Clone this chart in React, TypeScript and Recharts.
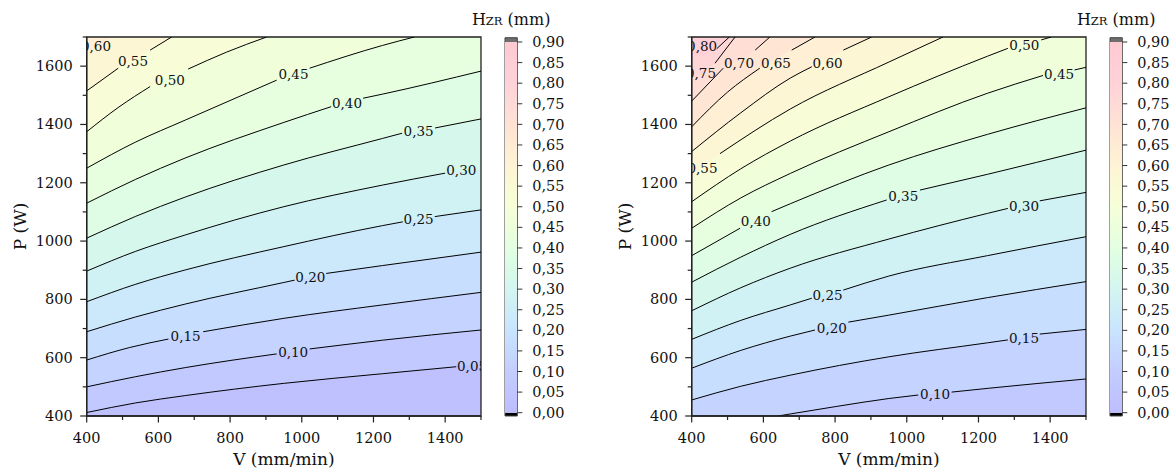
import React from 'react';
import {
  ComposedChart,
  Area,
  Line,
  Scatter,
  XAxis,
  YAxis,
  CartesianGrid,
  ReferenceArea,
  BarChart,
  Bar,
  Label,
} from 'recharts';

const FONT = '"DejaVu Serif", serif';

// axis ranges and ticks
const V_MIN = 400;
const V_MAX = 1500;
const P_MIN = 400;
const P_MAX = 1700;
const V_TICKS = [400, 500, 600, 700, 800, 900, 1000, 1100, 1200, 1300, 1400, 1500];
const P_TICKS = [400, 500, 600, 700, 800, 900, 1000, 1100, 1200, 1300, 1400, 1500, 1600, 1700];
const CB_TICKS = [0, 0.05, 0.1, 0.15, 0.2, 0.25, 0.3, 0.35, 0.4, 0.45, 0.5, 0.55, 0.6, 0.65, 0.7, 0.75, 0.8, 0.85, 0.9];

type Pt = [number, number | null];

// left panel: contour lines [V, P] (null = gap where the label sits)
const left005: Pt[] = [[400, 412], [537, 445], [675, 470], [950, 512], [1225, 545], [1431, 569], [1453, null], [1500, 577]];
const left010: Pt[] = [[400, 500], [537, 535], [675, 566], [930, 613], [976, null], [1022, 630], [1225, 660], [1500, 695]];
const left015: Pt[] = [[400, 592], [520, 635], [628, 664], [676, null], [725, 689], [950, 735], [1225, 781], [1500, 824]];
const left020: Pt[] = [[400, 689], [537, 740], [675, 784], [950, 858], [980, 866], [1024, null], [1068, 889], [1225, 916], [1500, 962]];
const left025: Pt[] = [[400, 792], [537, 852], [675, 901], [950, 981], [1225, 1053], [1282, 1066], [1326, null], [1371, 1084], [1500, 1107]];
const left030: Pt[] = [[400, 897], [537, 965], [675, 1021], [950, 1118], [1225, 1192], [1400, 1233], [1445, null], [1500, 1250]];
const left035: Pt[] = [[400, 1010], [537, 1085], [675, 1151], [950, 1261], [1225, 1352], [1280, 1370], [1326, null], [1372, 1388], [1500, 1419]];
const left040: Pt[] = [[400, 1130], [537, 1212], [675, 1285], [950, 1407], [1082, 1461], [1126, null], [1171, 1490], [1225, 1504], [1500, 1583]];
const left045: Pt[] = [[400, 1250], [537, 1340], [675, 1415], [930, 1552], [977, null], [1022, 1593], [1225, 1671], [1314, 1700]];
const left050: Pt[] = [[400, 1375], [490, 1460], [577, 1530], [632, null], [683, 1590], [790, 1648], [902, 1700]];
const left055: Pt[] = [[400, 1515], [488, 1593], [529, null], [577, 1655], [637, 1700]];
const left060: Pt[] = [[400, 1645], [426, null], [470, 1700]];

const LEFT_LEVELS = [0.05, 0.1, 0.15, 0.2, 0.25, 0.3, 0.35, 0.4, 0.45, 0.5, 0.55, 0.6];
const LEFT_LINES = [left005, left010, left015, left020, left025, left030, left035, left040, left045, left050, left055, left060];
// [level, V, P]
const LEFT_LABELS: [number, number, number][] = [
  [0.05, 1475, 570], [0.1, 976, 621], [0.15, 676, 674], [0.2, 1024, 877],
  [0.25, 1326, 1075], [0.3, 1445, 1243], [0.35, 1326, 1379], [0.4, 1126, 1472],
  [0.45, 977, 1572], [0.5, 632, 1552], [0.55, 529, 1618], [0.6, 426, 1669],
];

// right panel
const right010: Pt[] = [[641, 400], [675, 407], [800, 432], [950, 460], [1032, 472], [1079, null], [1125, 482], [1227, 495], [1500, 527]];
const right015: Pt[] = [[400, 455], [537, 502], [675, 540], [950, 603], [1225, 651], [1282, 661], [1327, null], [1371, 681], [1500, 697]];
const right020: Pt[] = [[400, 564], [537, 625], [675, 674], [744, 695], [791, null], [837, 722], [950, 746], [1225, 806], [1500, 861]];
const right025: Pt[] = [[400, 663], [537, 728], [675, 781], [735, 804], [779, null], [823, 832], [950, 880], [1225, 950], [1500, 1015]];
const right030: Pt[] = [[400, 761], [537, 840], [675, 907], [950, 1007], [1225, 1095], [1282, 1112], [1327, null], [1371, 1138], [1500, 1167]];
const right035: Pt[] = [[400, 859], [537, 945], [675, 1023], [944, 1141], [990, null], [1037, 1175], [1225, 1229], [1500, 1312]];
const right040: Pt[] = [[400, 950], [535, 1044], [579, null], [623, 1101], [675, 1128], [950, 1261], [1225, 1366], [1500, 1457]];
const right045: Pt[] = [[400, 1044], [537, 1148], [675, 1232], [950, 1375], [1225, 1507], [1380, 1568], [1425, null], [1468, 1587], [1500, 1596]];
const right050: Pt[] = [[400, 1135], [537, 1248], [675, 1343], [950, 1495], [1225, 1634], [1282, 1661], [1328, null], [1375, 1690], [1403, 1700]];
const right055: Pt[] = [[400, 1223], [430, null], [479, 1300], [675, 1453], [950, 1614], [1101, 1700]];
const right060: Pt[] = [[400, 1307], [537, 1440], [675, 1559], [735, 1598], [779, null], [823, 1655], [902, 1700]];
const right065: Pt[] = [[400, 1392], [500, 1511], [590, 1593], [635, null], [679, 1655], [744, 1700]];
const right070: Pt[] = [[400, 1480], [488, 1593], [532, null], [577, 1655], [618, 1700]];
const right075: Pt[] = [[400, 1555], [426, null], [465, 1610], [521, 1700]];
const right080: Pt[] = [[400, 1630], [429, null], [470, 1660], [505, 1700]];

const RIGHT_LEVELS = [0.1, 0.15, 0.2, 0.25, 0.3, 0.35, 0.4, 0.45, 0.5, 0.55, 0.6, 0.65, 0.7, 0.75, 0.8];
const RIGHT_LINES = [right010, right015, right020, right025, right030, right035, right040, right045, right050, right055, right060, right065, right070, right075, right080];
const RIGHT_LABELS: [number, number, number][] = [
  [0.1, 1079, 475], [0.15, 1327, 668], [0.2, 791, 703], [0.25, 779, 816],
  [0.3, 1327, 1121], [0.35, 990, 1153], [0.4, 579, 1068], [0.45, 1425, 1573],
  [0.5, 1328, 1671], [0.55, 430, 1250], [0.6, 779, 1612], [0.65, 635, 1612],
  [0.7, 532, 1612], [0.75, 426, 1575], [0.8, 429, 1668],
];

// colour map (value -> colour)
const CMAP_STOPS: [number, string][] = [
  [0.0, '#bdbdff'],
  [0.1, '#c3cdff'],
  [0.2, '#c8e4ff'],
  [0.3, '#d2f6f0'],
  [0.4, '#e2ffe0'],
  [0.5, '#f5ffd8'],
  [0.6, '#fff3d4'],
  [0.7, '#ffe2d4'],
  [0.8, '#ffd2d8'],
  [0.9, '#ffc9d2'],
];

const hexToRgb = (h: string) => [1, 3, 5].map((i) => parseInt(h.slice(i, i + 2), 16));

function cmap(v: number) {
  const s = CMAP_STOPS;
  if (v <= s[0][0]) return s[0][1];
  for (let i = 1; i < s.length; i++) {
    if (v <= s[i][0]) {
      const t = (v - s[i - 1][0]) / (s[i][0] - s[i - 1][0]);
      const a = hexToRgb(s[i - 1][1]);
      const b = hexToRgb(s[i][1]);
      const c = a.map((x, k) => Math.round(x + (b[k] - x) * t));
      return `rgb(${c[0]},${c[1]},${c[2]})`;
    }
  }
  return s[s.length - 1][1];
}

const fmt = (v: number) => v.toFixed(2).replace('.', ',');

const toLine = (pts: Pt[]) => pts.map(([v, p]) => ({ v, p }));
const toArea = (pts: Pt[]) => {
  const d = pts.filter(([, p]) => p !== null).map(([v, p]) => ({ v, p }));
  // contour starting on the bottom edge: the band also covers the edge to its left
  if (d[0].p === P_MIN && d[0].v > V_MIN) d.unshift({ v: V_MIN, p: P_MIN });
  return d;
};

const XTick = ({ x, y, payload }: any) => {
  const major = payload.value % 200 === 0;
  return (
    <g>
      <line x1={x} y1={y} x2={x} y2={y + (major ? 6.5 : 4)} stroke="#222" strokeWidth={1.2} />
      {major && (
        <text x={x} y={y + 27} textAnchor="middle" fontFamily={FONT} fontSize={14.5} fill="#111">
          {payload.value}
        </text>
      )}
    </g>
  );
};

const YTick = ({ x, y, payload }: any) => {
  const major = payload.value % 200 === 0;
  return (
    <g>
      <line x1={x - (major ? 6.5 : 4)} y1={y} x2={x} y2={y} stroke="#222" strokeWidth={1.2} />
      {major && (
        <text x={x - 14} y={y + 5} textAnchor="end" fontFamily={FONT} fontSize={14.5} fill="#111">
          {payload.value}
        </text>
      )}
    </g>
  );
};

const XTitle = ({ viewBox }: any) => (
  <text x={viewBox.x + viewBox.width / 2} y={viewBox.y + 48.5} textAnchor="middle" fontFamily={FONT} fontSize={17} fill="#111">
    V (mm/min)
  </text>
);

const YTitle = ({ viewBox }: any) => {
  const cx = viewBox.x + viewBox.width - 66.5;
  const cy = viewBox.y + viewBox.height / 2;
  return (
    <text x={cx} y={cy} transform={`rotate(-90, ${cx}, ${cy})`} textAnchor="middle" dominantBaseline="central" fontFamily={FONT} fontSize={17} fill="#111">
      P (W)
    </text>
  );
};

const CbTitle = ({ viewBox }: any) => (
  <text x={viewBox.x - 6.15} y={viewBox.y - 12.7} textAnchor="middle" fontFamily={FONT} fill="#111">
    <tspan fontSize={16}>H</tspan>
    <tspan fontSize={11.5}>ZR</tspan>
    <tspan fontSize={16}> (mm)</tspan>
  </text>
);

const LabelShape = (props: any) => {
  const { cx, cy, payload } = props;
  return (
    <text x={cx} y={cy} textAnchor="middle" dominantBaseline="central" fontFamily={FONT} fontSize={13.5} fill="#111">
      {fmt(payload.level)}
    </text>
  );
};

interface ContourChartProps {
  levels: number[];
  lines: Pt[][];
  labels: [number, number, number][];
  baseLevel: number;
}

function ContourChart({ levels, lines, labels, baseLevel }: ContourChartProps) {
  const labelData = labels.map(([level, v, p]) => ({ level, v, p }));
  return (
    <ComposedChart width={500} height={470} margin={{ top: 37, right: 19, bottom: 24, left: 26.7 }}>
      <CartesianGrid horizontal={false} vertical={false} fill={cmap(baseLevel)} stroke="none" />
      <XAxis
        type="number"
        dataKey="v"
        domain={[V_MIN, V_MAX]}
        ticks={V_TICKS}
        interval={0}
        allowDataOverflow
        tickLine={false}
        tickSize={0}
        tickMargin={0}
        tick={XTick}
        height={30}
        axisLine={{ stroke: '#222', strokeWidth: 1.3 }}
      >
        <Label content={XTitle} />
      </XAxis>
      <YAxis
        type="number"
        domain={[P_MIN, P_MAX]}
        ticks={P_TICKS}
        interval={0}
        allowDataOverflow
        tickLine={false}
        tickSize={0}
        tickMargin={0}
        tick={YTick}
        width={60}
        axisLine={{ stroke: '#222', strokeWidth: 1.3 }}
      >
        <Label content={YTitle} />
      </YAxis>
      {lines.map((pts, i) => (
        <Area
          key={`band-${i}`}
          data={toArea(pts)}
          dataKey="p"
          type="monotone"
          baseValue={P_MAX}
          fill={cmap(levels[i] + 0.025)}
          fillOpacity={1}
          stroke="none"
          connectNulls
          isAnimationActive={false}
        />
      ))}
      {lines.map((pts, i) => (
        <Line
          key={`line-${i}`}
          data={toLine(pts)}
          dataKey="p"
          type="monotone"
          stroke="#000"
          strokeWidth={1}
          dot={false}
          activeDot={false}
          isAnimationActive={false}
        />
      ))}
      <Scatter data={labelData} dataKey="p" shape={LabelShape} isAnimationActive={false} />
      <ReferenceArea x1={V_MIN} x2={V_MAX} y1={P_MIN} y2={P_MAX} fill="none" stroke="#222" strokeWidth={1.3} />
    </ComposedChart>
  );
}

const CB_DATA = [{ k: 'H', range: [0, 0.9] }];

function ColorBar({ id }: { id: string }) {
  return (
    <BarChart width={102.3} height={470} margin={{ top: 37.7, right: 0, bottom: 54, left: 40 }} data={CB_DATA} barCategoryGap={0}>
      <defs>
        <linearGradient id={id} x1="0" y1="1" x2="0" y2="0">
          {CMAP_STOPS.map(([v, c]) => (
            <stop key={v} offset={v / 0.9} stopColor={c} />
          ))}
        </linearGradient>
      </defs>
      <XAxis dataKey="k" hide />
      <YAxis
        orientation="right"
        type="number"
        domain={[-0.008, 0.9104]}
        ticks={CB_TICKS}
        interval={0}
        allowDataOverflow
        width={50}
        tickSize={5}
        tickMargin={10}
        axisLine={false}
        tickLine={{ stroke: '#333' }}
        tick={{ fontFamily: FONT, fontSize: 14.5, fill: '#111' }}
        tickFormatter={fmt}
      >
        <Label content={CbTitle} />
      </YAxis>
      <Bar dataKey="range" fill={`url(#${id})`} isAnimationActive={false} />
      <ReferenceArea y1={-0.008} y2={0} fill="#000" fillOpacity={1} />
      <ReferenceArea y1={0.9} y2={0.9104} fill="#6e6e6e" fillOpacity={1} />
      <ReferenceArea y1={-0.008} y2={0.9104} fill="none" stroke="#444" strokeWidth={1} />
    </BarChart>
  );
}

export default function App() {
  return (
    <div style={{ position: 'absolute', left: 0, top: 0, width: 1176, height: 470, background: '#fff', overflow: 'hidden' }}>
      <div style={{ position: 'absolute', left: 0, top: 0 }}>
        <ContourChart levels={LEFT_LEVELS} lines={LEFT_LINES} labels={LEFT_LABELS} baseLevel={0.025} />
      </div>
      <div style={{ position: 'absolute', left: 605, top: 0 }}>
        <ContourChart levels={RIGHT_LEVELS} lines={RIGHT_LINES} labels={RIGHT_LABELS} baseLevel={0.075} />
      </div>
      <div style={{ position: 'absolute', left: 465, top: 0 }}>
        <ColorBar id="cbGradLeft" />
      </div>
      <div style={{ position: 'absolute', left: 1070, top: 0 }}>
        <ColorBar id="cbGradRight" />
      </div>
    </div>
  );
}
